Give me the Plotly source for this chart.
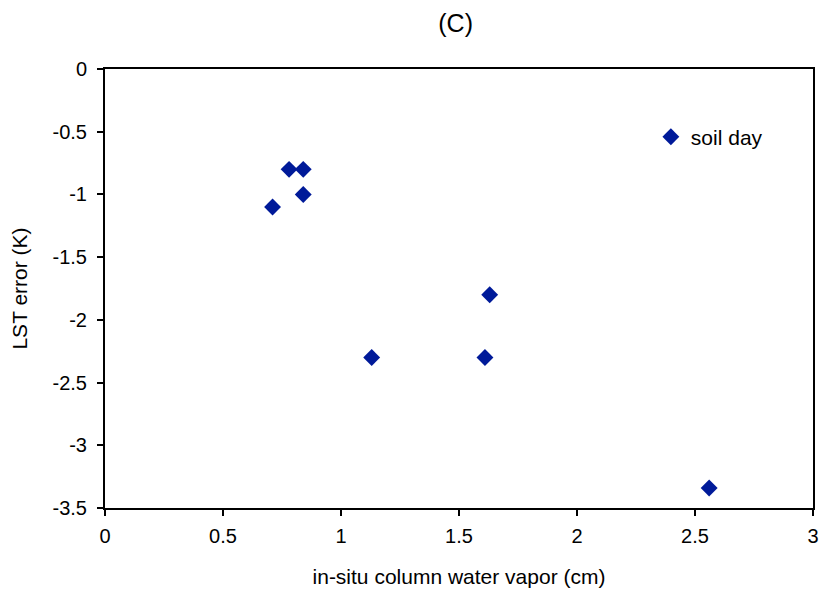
import plotly.graph_objects as go

water_vapor = [0.71, 0.78, 0.84, 0.84, 1.13, 1.61, 1.63, 2.56]
lst_error = [-1.1, -0.8, -0.8, -1.0, -2.3, -2.3, -1.8, -3.34]
x_ticks = [0, 0.5, 1, 1.5, 2, 2.5, 3]
x_tick_labels = ["0", "0.5", "1", "1.5", "2", "2.5", "3"]
y_ticks = [0, -0.5, -1, -1.5, -2, -2.5, -3, -3.5]
y_tick_labels = ["0", "-0.5", "-1", "-1.5", "-2", "-2.5", "-3", "-3.5"]

fig = go.Figure()
fig.add_trace(go.Scatter(
    x=water_vapor, y=lst_error, mode="markers", name="soil day",
    marker=dict(symbol="diamond", size=13, color="#001a99"),
))

font = "Liberation Sans, Arial, sans-serif"
fig.update_layout(
    width=821, height=597,
    margin=dict(l=105, r=8, t=69, b=89),
    paper_bgcolor="white", plot_bgcolor="white",
    font=dict(family=font, size=20, color="black"),
    title=dict(text="(C)", x=0.555, xanchor="center", y=0.961, yanchor="middle",
               font=dict(size=25)),
    showlegend=True,
    legend=dict(x=0.771, xanchor="left", y=0.845, yanchor="middle",
                itemwidth=30, bgcolor="rgba(0,0,0,0)", font=dict(size=21)),
    xaxis=dict(range=[0, 3], tickvals=x_ticks, ticktext=x_tick_labels,
               showgrid=False, zeroline=False, showline=True, linecolor="black",
               linewidth=2, mirror=True, ticks="outside", ticklen=6, tickwidth=2,
               tickcolor="black", automargin=False, tickfont=dict(size=20),
               ticklabelstandoff=3,
               title=dict(text="in-situ column water vapor (cm)", standoff=23,
                          font=dict(size=21))),
    yaxis=dict(range=[-3.5, 0], tickvals=y_ticks, ticktext=y_tick_labels,
               showgrid=False, zeroline=False, showline=True, linecolor="black",
               linewidth=2, mirror=True, ticks="outside", ticklen=6, tickwidth=2,
               tickcolor="black", automargin=False, tickfont=dict(size=20),
               ticklabelstandoff=6,
               title=dict(text="LST error (K)", standoff=19, font=dict(size=21))),
)

fig.write_html("out.html")
